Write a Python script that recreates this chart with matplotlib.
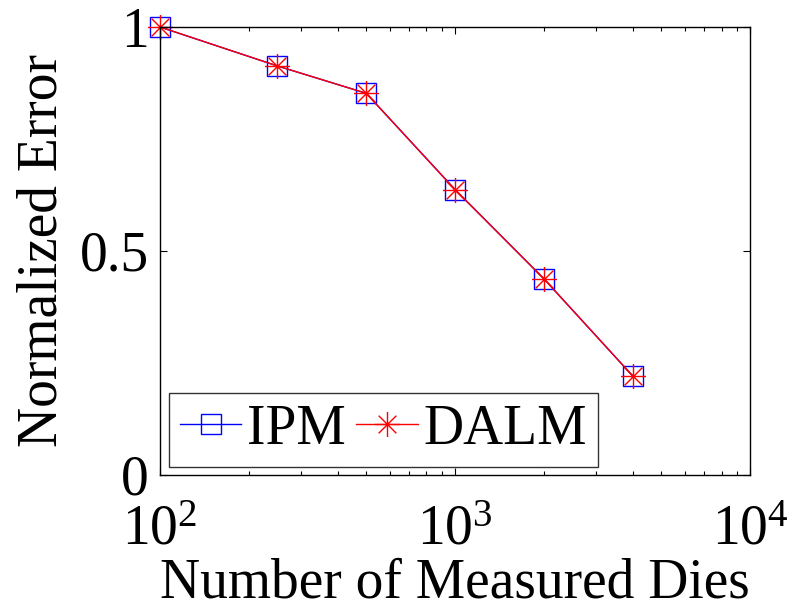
import matplotlib
matplotlib.use("Agg")
import matplotlib.pyplot as plt
from matplotlib.path import Path
import numpy as np

# Data
num_dies = [100, 250, 500, 1000, 2000, 4000]
ipm_error = [1.0, 0.913, 0.852, 0.637, 0.438, 0.221]
dalm_error = [1.0, 0.913, 0.852, 0.637, 0.438, 0.221]
series_labels = ["IPM", "DALM"]
x_ticks = [1e2, 1e3, 1e4]
x_tick_labels = [r"$10^{2}$", r"$10^{3}$", r"$10^{4}$"]
y_ticks = [0, 0.5, 1]
y_tick_labels = ["0", "0.5", "1"]

plt.rcParams['font.family'] = ['Liberation Serif', 'DejaVu Serif']
plt.rcParams['mathtext.fontset'] = 'custom'
plt.rcParams['mathtext.rm'] = 'Liberation Serif'
plt.rcParams['mathtext.it'] = 'Liberation Serif:italic'

FS = 40

# asterisk marker (8-armed)
verts = []
codes = []
for ang in [0, 45, 90, 135]:
    a = np.deg2rad(ang)
    verts += [(-np.cos(a), -np.sin(a)), (np.cos(a), np.sin(a))]
    codes += [Path.MOVETO, Path.LINETO]
star = Path(verts, codes)

fig = plt.figure(figsize=(7.98, 6.12), dpi=100)
ax = fig.add_axes([0.2005, 0.2239, 0.7395, 0.732])

ax.plot(num_dies, ipm_error, color=(0, 0, 1), lw=1.0, marker='s', ms=15,
        mfc='none', mec=(0, 0, 1), mew=1.0, label=series_labels[0], clip_on=False)
ax.plot(num_dies, dalm_error, color=(1, 0, 0), lw=1.0, marker=star, ms=18,
        mfc='none', mec=(1, 0, 0), mew=1.0, label=series_labels[1], clip_on=False)

ax.set_xscale('log')
ax.set_xlim(1e2, 1e4)
ax.set_ylim(0, 1)
ax.set_xticks(x_ticks)
ax.set_xticklabels(x_tick_labels)
ax.set_yticks(y_ticks)
ax.set_yticklabels(y_tick_labels)
ax.tick_params(which='both', direction='in', top=True, right=True, labelsize=FS)
ax.tick_params(which='major', length=5, width=0.8)
ax.tick_params(which='minor', length=3, width=0.8)
ax.tick_params(axis='x', pad=21)
ax.tick_params(axis='y', pad=8)
for s in ax.spines.values():
    s.set_linewidth(1.0)

ax.set_xlabel("Number of Measured Dies", fontsize=FS, labelpad=1)
ax.set_ylabel("Normalized Error", fontsize=FS, labelpad=8)

leg = ax.legend(loc='lower left', bbox_to_anchor=(0.015, 0.018), ncol=2,
                fontsize=FS, frameon=True, fancybox=False, borderaxespad=0,
                handlelength=1.1, handletextpad=0.1, columnspacing=0.2,
                borderpad=0.2)
leg.get_frame().set_edgecolor('black')
leg.get_frame().set_linewidth(1.0)

fig.savefig("out.png", dpi=100)
